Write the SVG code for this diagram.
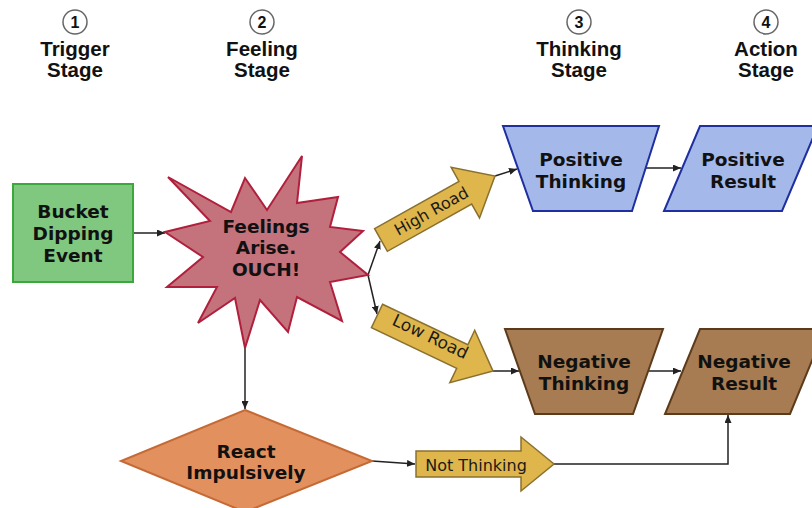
<svg xmlns="http://www.w3.org/2000/svg" width="812" height="508" viewBox="0 0 812 508">
<style>
.hdr{font-family:"Liberation Sans",Arial,sans-serif;font-weight:bold;font-size:20.5px;fill:#111;text-anchor:middle}
.num{font-family:"Liberation Sans",Arial,sans-serif;font-weight:bold;font-size:16px;fill:#111;text-anchor:middle}
.circ{fill:#fff;stroke:#666;stroke-width:1.5}
.lbl{font-family:"DejaVu Sans",Verdana,sans-serif;font-weight:bold;font-size:18.5px;fill:#111;text-anchor:middle}
.arr{font-family:"DejaVu Sans",Verdana,sans-serif;font-size:16px;fill:#1a1a1a;text-anchor:middle}
.yel{fill:#dfb64b;stroke:#8a7030;stroke-width:1.5}
.con{fill:none;stroke:#222;stroke-width:1.5;marker-end:url(#ah)}
</style>
<defs>
<marker id="ah" markerUnits="userSpaceOnUse" markerWidth="8" markerHeight="7" refX="8" refY="3.5" orient="auto">
<path d="M0,0 L8,3.5 L0,7 Z" fill="#222"/>
</marker>
</defs>
<rect width="812" height="508" fill="#fff"/>

<g id="stage1"><circle class="circ" cx="75" cy="22" r="12"/><text class="num" x="75" y="28">1</text><text class="hdr" x="75" y="56">Trigger</text><text class="hdr" x="75" y="77">Stage</text></g>
<g id="stage2"><circle class="circ" cx="262" cy="22" r="12"/><text class="num" x="262" y="28">2</text><text class="hdr" x="262" y="56">Feeling</text><text class="hdr" x="262" y="77">Stage</text></g>
<g id="stage3"><circle class="circ" cx="579" cy="22" r="12"/><text class="num" x="579" y="28">3</text><text class="hdr" x="579" y="56">Thinking</text><text class="hdr" x="579" y="77">Stage</text></g>
<g id="stage4"><circle class="circ" cx="766" cy="22" r="12"/><text class="num" x="766" y="28">4</text><text class="hdr" x="766" y="56">Action</text><text class="hdr" x="766" y="77">Stage</text></g>

<g id="connectors">
<path class="con" d="M133,233 L165,233"/>
<path class="con" d="M368,275 L380,241"/>
<path class="con" d="M368,275 L377,314"/>
<path class="con" d="M495,176 L517,169"/>
<path class="con" d="M646,168 L681,168"/>
<path class="con" d="M493,371 L519,371"/>
<path class="con" d="M648,371 L681,371"/>
<path class="con" d="M245,348 L245,409"/>
<path class="con" d="M372,461 L415,464"/>
<path class="con" d="M554,464 L728,464 L728,415"/>
</g>

<g id="event">
<rect x="13" y="184" width="120" height="98" fill="#80c77f" stroke="#3aa83a" stroke-width="2"/>
<text class="lbl" x="73" y="218">Bucket</text><text class="lbl" x="73" y="240">Dipping</text><text class="lbl" x="73" y="262">Event</text>
</g>

<g id="feelings">
<polygon points="168,177 231,212 245,178 267,210 302,156 297,203 338,197 330,227 363,231 340,252 368,275 330,282 342,321 297,297 288,332 260,300 245,348 235,298 198,323 217,287 167,287 203,257 165,232 210,221" fill="#c4737c" stroke="#b0203c" stroke-width="2" stroke-linejoin="miter"/>
<text class="lbl" x="266" y="233">Feelings</text><text class="lbl" x="266" y="254">Arise.</text><text class="lbl" x="266" y="276">OUCH!</text>
</g>

<g id="highroad" transform="translate(381,240) rotate(-29.3)">
<path class="yel" d="M0,-13 L96.7,-13 L96.7,-29 L130.7,0 L96.7,29 L96.7,13 L0,13 Z"/>
<text class="arr" x="58" y="5">High Road</text>
</g>

<g id="lowroad" transform="translate(377,316) rotate(25.4)">
<path class="yel" d="M0,-13 L94.4,-13 L94.4,-29 L128.4,0 L94.4,29 L94.4,13 L0,13 Z"/>
<text class="arr" x="57" y="1.5" style="font-size:17px">Low Road</text>
</g>

<g id="posthink">
<polygon points="503,126 659,126 632,211 533,211" fill="#a4b9ea" stroke="#1f2f9f" stroke-width="2"/>
<text class="lbl" x="581" y="166">Positive</text><text class="lbl" x="581" y="188">Thinking</text>
</g>

<g id="posresult">
<polygon points="700,126 818,126 782,211 664,211" fill="#a4b9ea" stroke="#1f2f9f" stroke-width="2"/>
<text class="lbl" x="743" y="166">Positive</text><text class="lbl" x="743" y="188">Result</text>
</g>

<g id="negthink">
<polygon points="505,329 663,329 633,414 535,414" fill="#a87c52" stroke="#5b3b1b" stroke-width="2"/>
<text class="lbl" x="584" y="368">Negative</text><text class="lbl" x="584" y="390">Thinking</text>
</g>

<g id="negresult">
<polygon points="700,329 825,329 790,414 665,414" fill="#a87c52" stroke="#5b3b1b" stroke-width="2"/>
<text class="lbl" x="744" y="368">Negative</text><text class="lbl" x="744" y="390">Result</text>
</g>

<g id="react">
<polygon points="245,410 372,461 245,512 121,461" fill="#e2905e" stroke="#c56a35" stroke-width="2"/>
<text class="lbl" x="246" y="458">React</text><text class="lbl" x="246" y="479">Impulsively</text>
</g>

<g id="notthinking">
<path class="yel" d="M416,451 L521,451 L521,437 L554,464 L521,491 L521,477 L416,477 Z"/>
<text class="arr" x="476" y="471">Not Thinking</text>
</g>
</svg>
